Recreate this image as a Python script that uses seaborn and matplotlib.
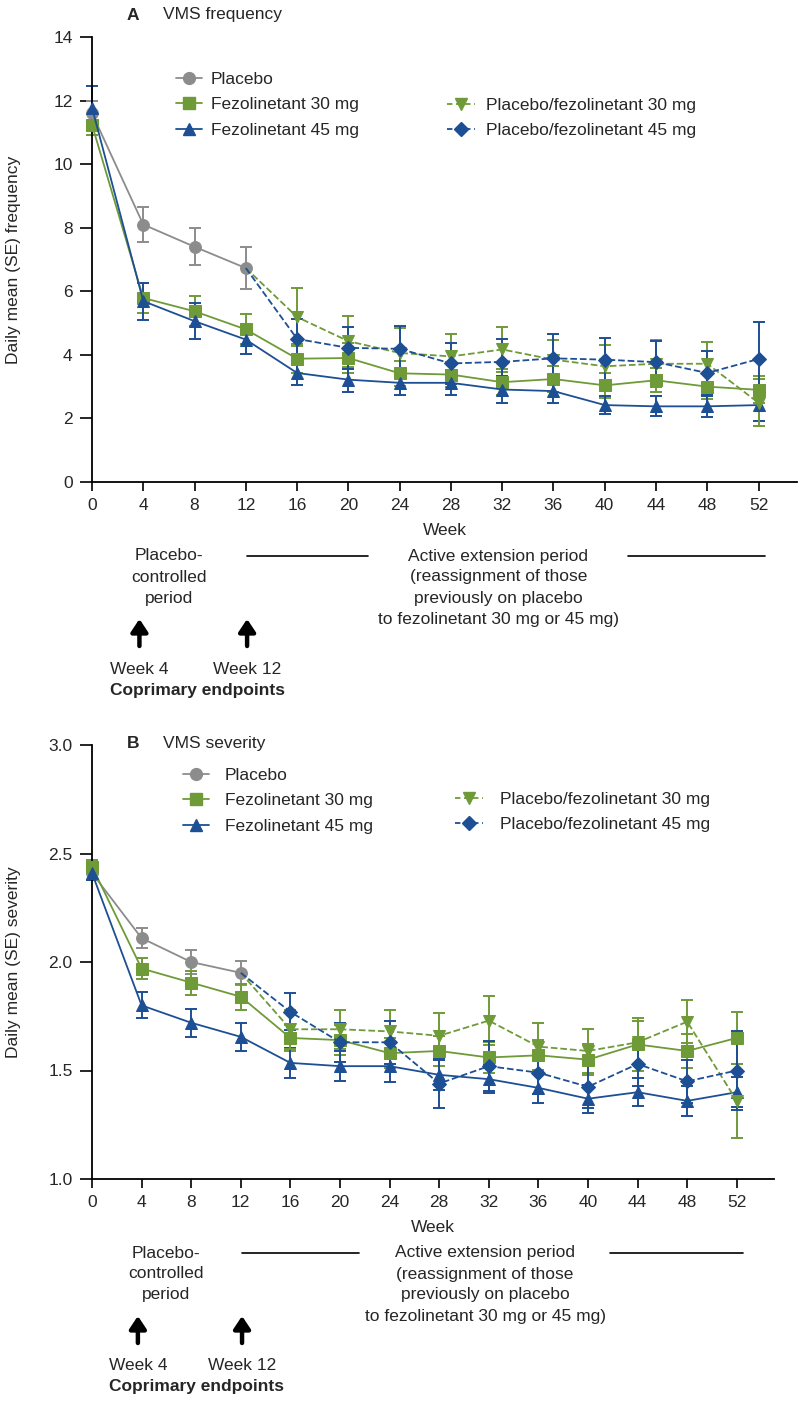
import numpy as np
import pandas as pd
import matplotlib
matplotlib.use("Agg")
import matplotlib.pyplot as plt
import seaborn as sns
from matplotlib.lines import Line2D
from matplotlib.transforms import blended_transform_factory

# data
weeks = [0, 4, 8, 12, 16, 20, 24, 28, 32, 36, 40, 44, 48, 52]
weeks_pbo = [0, 4, 8, 12]
weeks_ext = [12, 16, 20, 24, 28, 32, 36, 40, 44, 48, 52]

# panel A - VMS frequency
freq_pbo = [11.6, 8.1, 7.4, 6.73]
freq_pbo_se = [0.4, 0.55, 0.58, 0.65]
freq_f30 = [11.24, 5.79, 5.37, 4.8, 3.88, 3.9, 3.42, 3.38, 3.14, 3.24, 3.04, 3.2, 3.0, 2.9]
freq_f30_se = [0.33, 0.47, 0.47, 0.47, 0.45, 0.47, 0.4, 0.4, 0.4, 0.4, 0.4, 0.38, 0.4, 0.43]
freq_f45 = [11.78, 5.69, 5.06, 4.48, 3.43, 3.22, 3.12, 3.12, 2.91, 2.86, 2.42, 2.38, 2.38, 2.42]
freq_f45_se = [0.68, 0.58, 0.57, 0.44, 0.39, 0.38, 0.39, 0.39, 0.42, 0.37, 0.28, 0.31, 0.34, 0.5]
freq_pf30 = [6.73, 5.19, 4.43, 4.06, 3.95, 4.17, 3.85, 3.64, 3.72, 3.72, 2.49]
freq_pf30_se = [0, 0.9, 0.8, 0.77, 0.72, 0.71, 0.63, 0.68, 0.74, 0.7, 0.74]
freq_pf45 = [6.73, 4.5, 4.22, 4.19, 3.73, 3.78, 3.89, 3.85, 3.77, 3.43, 3.87]
freq_pf45_se = [0, 0.64, 0.66, 0.73, 0.65, 0.73, 0.77, 0.68, 0.68, 0.68, 1.17]

# panel B - VMS severity
sev_pbo = [2.41, 2.11, 2.0, 1.95]
sev_pbo_se = [0.03, 0.045, 0.055, 0.055]
sev_f30 = [2.44, 1.97, 1.905, 1.84, 1.65, 1.64, 1.58, 1.59, 1.56, 1.57, 1.55, 1.62, 1.59, 1.65]
sev_f30_se = [0.03, 0.05, 0.055, 0.06, 0.06, 0.07, 0.07, 0.07, 0.07, 0.07, 0.07, 0.12, 0.08, 0.12]
sev_f45 = [2.41, 1.80, 1.72, 1.655, 1.535, 1.52, 1.52, 1.48, 1.46, 1.42, 1.37, 1.40, 1.36, 1.40]
sev_f45_se = [0.03, 0.06, 0.065, 0.065, 0.07, 0.07, 0.075, 0.07, 0.065, 0.07, 0.065, 0.065, 0.07, 0.07]
sev_pf30 = [1.95, 1.69, 1.69, 1.68, 1.66, 1.73, 1.61, 1.59, 1.63, 1.725, 1.36]
sev_pf30_se = [0, 0.09, 0.09, 0.1, 0.105, 0.113, 0.107, 0.1, 0.1, 0.1, 0.17]
sev_pf45 = [1.95, 1.77, 1.63, 1.63, 1.44, 1.52, 1.49, 1.425, 1.53, 1.45, 1.50]
sev_pf45_se = [0, 0.085, 0.09, 0.1, 0.115, 0.115, 0.1, 0.1, 0.1, 0.1, 0.18]

labels = ["Placebo", "Fezolinetant 30 mg", "Fezolinetant 45 mg",
          "Placebo/fezolinetant 30 mg", "Placebo/fezolinetant 45 mg"]

GREY = "#8c8c8c"
GREEN = "#6f9a38"
BLUE = "#1d4f94"
FS = 12.5

sns.set_style("ticks")
plt.rcParams['font.family'] = ['Liberation Sans', 'DejaVu Sans']
plt.rcParams['font.size'] = FS

W, H = 800, 1402
fig = plt.figure(figsize=(8, 14.02), dpi=100)


def fy(px):
    return 1 - px / H


def draw_panel(ax, series, ylim, yticks, yfmt, ylabel):
    styles = [(GREY, "o", "-", 8.5), (GREEN, "s", "-", 8.5), (BLUE, "^", "-", 8.5),
              (GREEN, "v", "--", 8.5), (BLUE, "D", "--", 7)]
    for (x, y, se), lab, (c, m, ls, ms) in zip(series, labels, styles):
        df = pd.DataFrame({"Week": x, "val": y})
        dashed = ls == "--"
        ax.errorbar(x[1:] if dashed else x, y[1:] if dashed else y,
                    yerr=se[1:] if dashed else se, fmt="none", ecolor=c,
                    elinewidth=1.4, capsize=4, capthick=1.4, clip_on=False, zorder=2)
        sns.lineplot(data=df, x="Week", y="val", ax=ax, color=c, linestyle=ls,
                     marker=m, markersize=ms, markeredgecolor=c, lw=1.3,
                     markevery=list(range(1, len(x))) if dashed else None,
                     clip_on=False, zorder=3, dashes=(4, 2.5) if dashed else "")
    ax.set_xlim(0, 55)
    ax.set_ylim(*ylim)
    ax.set_xticks(range(0, 53, 4))
    ax.set_yticks(yticks)
    ax.set_yticklabels([yfmt.format(v) for v in yticks])
    ax.set_xlabel("Week", fontsize=FS, labelpad=7)
    ax.set_ylabel(ylabel, fontsize=FS)
    ax.tick_params(axis="x", length=6.5, width=1.2, labelsize=FS, color="black", pad=5)
    ax.tick_params(axis="y", length=9, width=1.2, labelsize=FS, color="black", pad=5)
    for s in ["left", "bottom"]:
        ax.spines[s].set_linewidth(1.3)
        ax.spines[s].set_color("black")
    sns.despine(ax=ax)


def legends(ax, rows_left, rows_right, xl, xr, padl, padr):
    hs = [Line2D([], [], color=GREY, marker="o", ms=8.5, lw=1.3),
          Line2D([], [], color=GREEN, marker="s", ms=8.5, lw=1.3),
          Line2D([], [], color=BLUE, marker="^", ms=8.5, lw=1.3),
          Line2D([], [], color=GREEN, marker="v", ms=8.5, lw=1.3, ls=(0, (3, 2))),
          Line2D([], [], color=BLUE, marker="D", ms=7, lw=1.3, ls=(0, (3, 2)))]
    l1 = ax.legend(hs[:3], labels[:3], loc="upper left", frameon=False,
                   bbox_to_anchor=(xl / W, fy(rows_left - 5)), bbox_transform=fig.transFigure,
                   borderpad=0, borderaxespad=0, handlelength=1.5, handletextpad=padl,
                   labelspacing=0.58, fontsize=FS)
    ax.add_artist(l1)
    ax.legend(hs[3:], labels[3:], loc="upper left", frameon=False,
              bbox_to_anchor=(xr / W, fy(rows_right - 5)), bbox_transform=fig.transFigure,
              borderpad=0, borderaxespad=0, handlelength=1.6, handletextpad=padr,
              labelspacing=0.58, fontsize=FS)


def period_notes(ax, yoff):
    tr = blended_transform_factory(ax.transData, fig.transFigure)
    kw = dict(transform=tr, ha="center", va="center", fontsize=FS)
    ax.text(6.0, fy(556 + yoff), "Placebo-", **kw)
    ax.text(6.0, fy(577 + yoff), "controlled", **kw)
    ax.text(6.0, fy(598 + yoff), "period", **kw)
    ax.text(31.7, fy(556 + yoff), "Active extension period", **kw)
    ax.text(31.7, fy(577 + yoff), "(reassignment of those", **kw)
    ax.text(31.7, fy(598 + yoff), "previously on placebo", **kw)
    ax.text(31.7, fy(619 + yoff), "to fezolinetant 30 mg or 45 mg)", **kw)
    for x0, x1 in [(12.1, 21.5), (41.8, 52.5)]:
        ax.add_line(Line2D([x0, x1], [fy(556 + yoff)] * 2, transform=tr, color="black",
                           lw=1.2, clip_on=False))
    for xa, txt in [(3.7, "Week 4"), (12.1, "Week 12")]:
        ax.annotate("", xy=(xa, fy(619 + yoff)), xytext=(xa, fy(646 + yoff)),
                    xycoords=tr, textcoords=tr,
                    arrowprops=dict(arrowstyle="-|>,head_width=0.4,head_length=0.6",
                                    lw=3.2, color="black", shrinkA=0, shrinkB=0),
                    annotation_clip=False)
        ax.text(xa, fy(669 + yoff), txt, **kw)
    ax.text(1.4, fy(690 + yoff), "Coprimary endpoints", transform=tr, ha="left",
            va="center", fontsize=FS, fontweight="bold")


# Panel A
axA = fig.add_axes([92 / W, fy(482), 705 / W, (482 - 37) / H])
draw_panel(axA,
           [(weeks_pbo, freq_pbo, freq_pbo_se), (weeks, freq_f30, freq_f30_se),
            (weeks, freq_f45, freq_f45_se), (weeks_ext, freq_pf30, freq_pf30_se),
            (weeks_ext, freq_pf45, freq_pf45_se)],
           (0, 14), list(range(0, 15, 2)), "{:.0f}", "Daily mean (SE) frequency")
axA.yaxis.set_label_coords(-0.1, 0.5)
legends(axA, 77, 103, 176, 447, 0.52, 0.63)
period_notes(axA, 0)
fig.text(133 / W, fy(15), "A", fontsize=FS, fontweight="bold", ha="center", va="center")
fig.text(163 / W, fy(15), "VMS frequency", fontsize=FS, ha="left", va="center")

# Panel B
axB = fig.add_axes([92 / W, fy(1179), 682 / W, (1179 - 745) / H])
draw_panel(axB,
           [(weeks_pbo, sev_pbo, sev_pbo_se), (weeks, sev_f30, sev_f30_se),
            (weeks, sev_f45, sev_f45_se), (weeks_ext, sev_pf30, sev_pf30_se),
            (weeks_ext, sev_pf45, sev_pf45_se)],
           (1.0, 3.0), [1.0, 1.5, 2.0, 2.5, 3.0], "{:.1f}", "Daily mean (SE) severity")
axB.yaxis.set_label_coords(-0.104, 0.5)
legends(axB, 773, 797, 183, 455, 0.92, 0.98)
period_notes(axB, 697)
fig.text(133 / W, fy(743), "B", fontsize=FS, fontweight="bold", ha="center", va="center")
fig.text(163 / W, fy(743), "VMS severity", fontsize=FS, ha="left", va="center")

fig.savefig("out.png", dpi=100)
